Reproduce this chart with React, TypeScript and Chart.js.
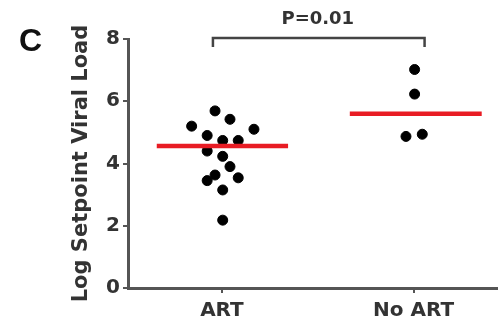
import React, { useEffect, useRef } from "react";
import { Chart, registerables } from "chart.js";

Chart.register(...registerables);

const groupLabels = ["ART", "No ART"];
const groupPositions = [1, 2];
const yTicks = [0, 2, 4, 6, 8];

const artX = [0.964, 1.042, 0.842, 1.167, 0.923, 1.004, 1.085, 0.923, 1.004, 1.042, 0.964, 0.923, 1.085, 1.004, 1.004];
const artY = [5.69, 5.42, 5.2, 5.1, 4.9, 4.74, 4.74, 4.4, 4.23, 3.9, 3.63, 3.45, 3.54, 3.15, 2.18];

const noArtX = [2.005, 2.005, 1.96, 2.045];
const noArtY = [7.02, 6.23, 4.87, 4.94];

const artMeanX = [0.66, 1.345];
const artMean = 4.56;
const noArtMeanX = [1.667, 2.355];
const noArtMean = 5.6;

const bracketX = [0.953, 0.953, 2.057, 2.057];
const bracketY = [7.74, 8.03, 8.03, 7.74];
const pLabel = "P=0.01";
const pPos = { x: 1.5, y: 8.64 };
const panelLabel = "C";

const FONT = "'DejaVu Sans', sans-serif";
const FONT_C = "'Liberation Sans', Arial, sans-serif";

export default function App() {
  const ref = useRef<HTMLCanvasElement>(null);

  useEffect(() => {
    const canvas = ref.current!;
    const stretchPlugin = {
      id: "stretchRight",
      afterLayout(chart: any) {
        const x = chart.scales.x;
        chart.chartArea.right = chart.width;
        chart.chartArea.width = chart.chartArea.right - chart.chartArea.left;
        x.right = chart.width;
        x.width = x.right - x.left;
        x.configure();
      },
    };
    const textPlugin = {
      id: "textPlugin",
      afterDraw(chart: any) {
        const { ctx, scales } = chart;
        ctx.save();
        ctx.fillStyle = "#333";
        ctx.font = `bold 18px ${FONT}`;
        ctx.textAlign = "center";
        ctx.textBaseline = "middle";
        ctx.fillText(pLabel, scales.x.getPixelForValue(pPos.x), scales.y.getPixelForValue(pPos.y));
        ctx.fillStyle = "#111";
        ctx.font = `bold 32px ${FONT_C}`;
        ctx.textAlign = "left";
        ctx.fillText(panelLabel, 19, 42);
        ctx.restore();
      },
    };

    const chart = new Chart(canvas, {
      type: "scatter",
      data: {
        datasets: [
          {
            label: "bracket",
            data: bracketX.map((x, i) => ({ x, y: bracketY[i] })),
            showLine: true,
            borderColor: "#444",
            borderWidth: 2.5,
            pointRadius: 0,
            clip: false as any,
            order: 3,
          },
          {
            label: "ART",
            data: artX.map((x, i) => ({ x, y: artY[i] })),
            backgroundColor: "#000",
            borderColor: "#000",
            pointRadius: 5,
            order: 2,
          },
          {
            label: "No ART",
            data: noArtX.map((x, i) => ({ x, y: noArtY[i] })),
            backgroundColor: "#000",
            borderColor: "#000",
            pointRadius: 5,
            order: 2,
          },
          {
            label: "ART mean",
            data: artMeanX.map((x) => ({ x, y: artMean })),
            showLine: true,
            borderColor: "#e81c24",
            borderWidth: 4.5,
            pointRadius: 0,
            order: 1,
          },
          {
            label: "No ART mean",
            data: noArtMeanX.map((x) => ({ x, y: noArtMean })),
            showLine: true,
            borderColor: "#e81c24",
            borderWidth: 4.5,
            pointRadius: 0,
            order: 1,
          },
        ],
      },
      options: {
        responsive: false,
        animation: false,
        layout: { padding: { top: 39, left: 0, right: 0, bottom: 0 } },
        plugins: { legend: { display: false }, tooltip: { enabled: false } },
        scales: {
          x: {
            type: "linear",
            min: 0.51,
            max: 2.44,
            afterBuildTicks: (s: any) => {
              s.ticks = groupPositions.map((v) => ({ value: v }));
            },
            afterFit: (s: any) => {
              s.height = 35;
            },
            ticks: {
              callback: (v: any) => groupLabels[groupPositions.indexOf(Number(v))] ?? "",
              color: "#333",
              font: { family: FONT, weight: "bold", size: 20 },
              padding: 6,
              maxRotation: 0,
            },
            grid: { display: true, drawOnChartArea: false, drawTicks: true, tickLength: 5, color: "#555", lineWidth: 2 },
            border: { display: true, color: "#555", width: 3 },
          },
          y: {
            min: 0,
            max: 8,
            afterBuildTicks: (s: any) => {
              s.ticks = yTicks.map((v) => ({ value: v }));
            },
            afterFit: (s: any) => {
              s.width = 128;
            },
            ticks: {
              color: "#333",
              font: { family: FONT, weight: "bold", size: 20 },
              padding: 3,
            },
            title: {
              display: true,
              text: "Log Setpoint Viral Load",
              color: "#333",
              font: { family: FONT, weight: "bold", size: 21 },
              padding: { top: 69, bottom: 0 },
            },
            grid: { display: true, drawOnChartArea: false, drawTicks: true, tickLength: 5, color: "#555", lineWidth: 2 },
            border: { display: true, color: "#555", width: 3 },
          },
        },
      },
      plugins: [stretchPlugin, textPlugin],
    });
    return () => chart.destroy();
  }, []);

  return (
    <div style={{ position: "fixed", left: 0, top: 0, width: 498, height: 323, background: "#fff" }}>
      <canvas ref={ref} width={498} height={323} style={{ display: "block" }} />
    </div>
  );
}
